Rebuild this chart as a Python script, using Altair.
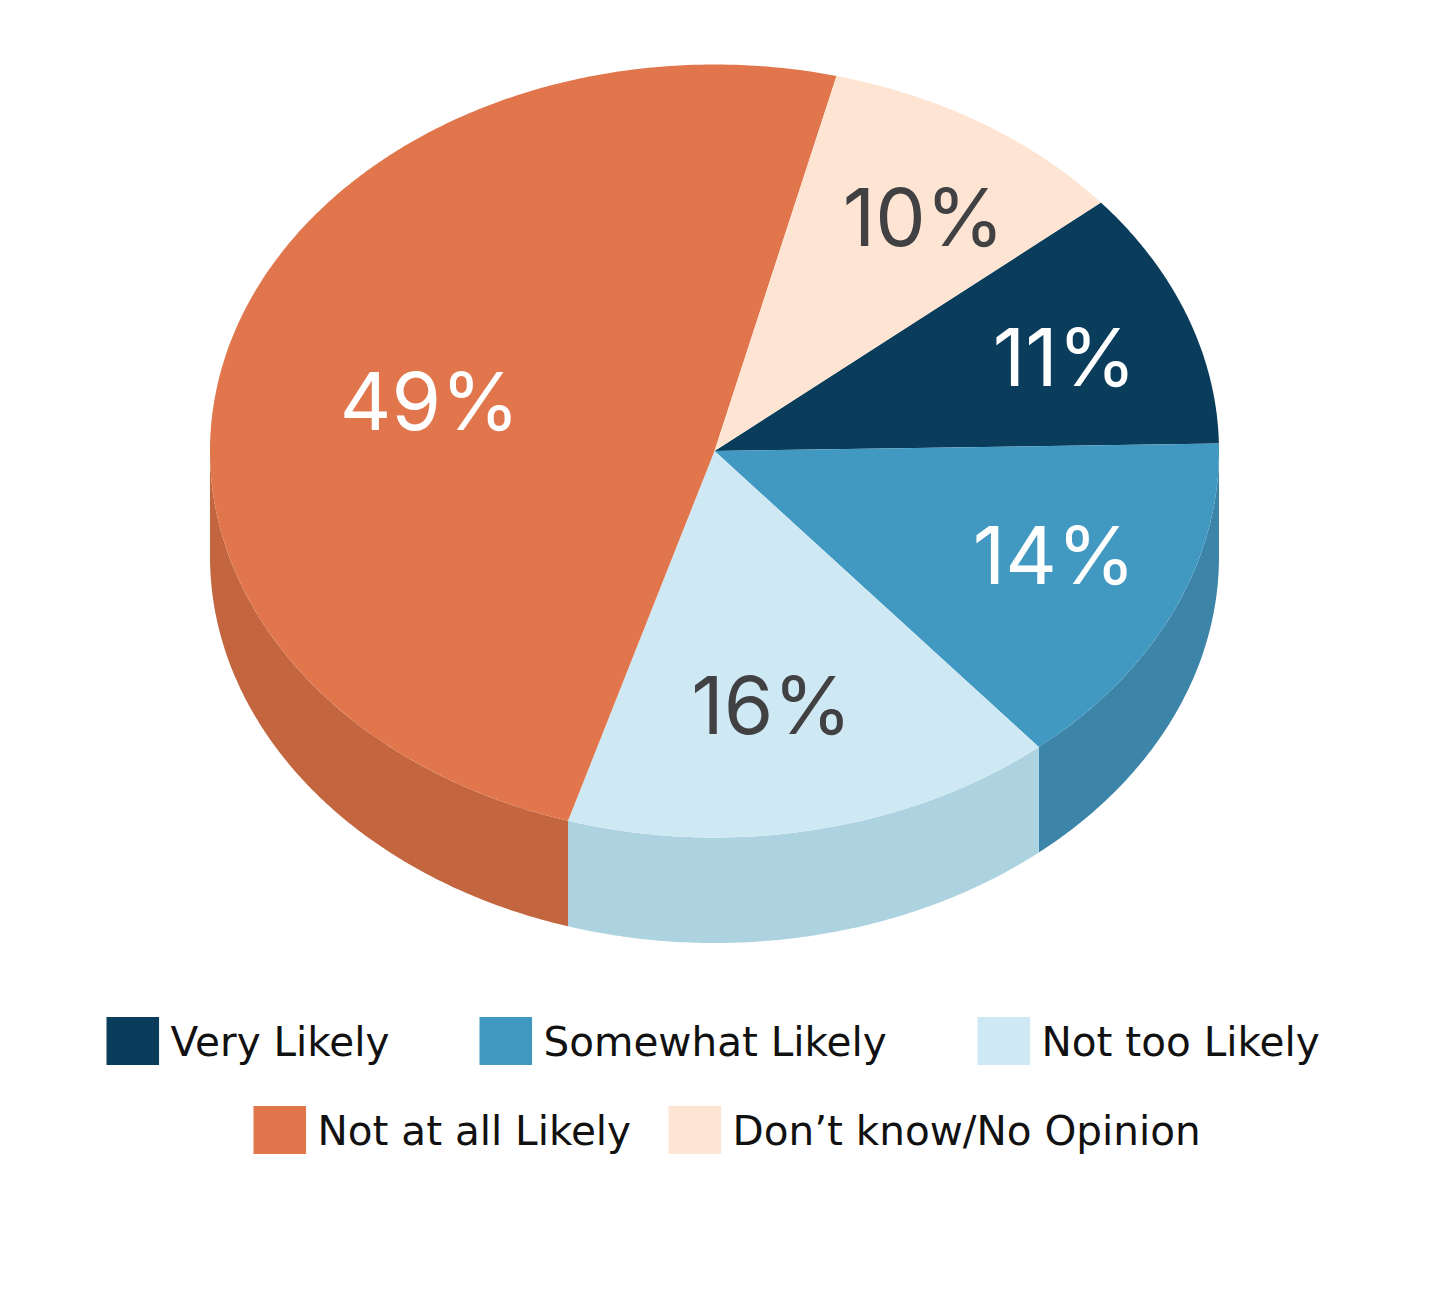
import math
import altair as alt

categories = ["Very Likely", "Somewhat Likely", "Not too Likely", "Not at all Likely", "Don’t know/No Opinion"]
shares = [10.8, 14.2, 15.8, 49.2, 10.0]
top_colors = ["#0A3D5C", "#4199C1", "#CFE9F4", "#E1764D", "#FEE5D3"]
wall_colors = ["#0A3D5C", "#3C85A8", "#ADD3E1", "#C3653F", "#FEE5D3"]
label_colors = ["#FFFFFF", "#FFFFFF", "#414042", "#FFFFFF", "#414042"]
label_reach = [0.73, 0.72, 0.665, 0.585, 0.73]
label_turn = [1.0, -2.4, 2.3, -2.7, 2.0]

W, H = 1424, 1270
CX, CY, RX, RY, DEPTH = 706.5, 443, 504.5, 386.5, 105.5
START = 50.0
WALL_SEAM = 121.2


def pt(deg, reach=1.0, drop=0.0):
    a = math.radians(deg)
    return [CX + RX * reach * math.sin(a), CY - RY * reach * math.cos(a) + drop]


def sweep(a0, a1):
    n = max(2, int(abs(a1 - a0) * 2) + 1)
    return [a0 + (a1 - a0) * i / (n - 1) for i in range(n)]


def feature(cat, ring, color):
    return {"type": "Feature", "category": cat, "paint": color,
            "geometry": {"type": "Polygon", "coordinates": [ring + [ring[0]]]}, "properties": {}}


def wall_piece(cat, lo, hi, color):
    arc = sweep(lo, hi)
    return feature(cat, [pt(d) for d in arc] + [pt(d, drop=DEPTH) for d in reversed(arc)], color)


tops, walls, labels = [], [], []
angle = START
for cat, share, top, wall, lc, reach, turn in zip(categories, shares, top_colors, wall_colors, label_colors, label_reach, label_turn):
    a1 = angle + share * 3.6
    tops.append(feature(cat, [[CX, CY]] + [pt(d) for d in sweep(angle, a1)], top))
    lo, hi = max(angle, 90), min(a1, 270)
    if lo < hi:
        if lo < WALL_SEAM < hi:
            walls.append(wall_piece(cat, lo, WALL_SEAM, wall))
            walls.append(wall_piece(cat, WALL_SEAM, hi, wall))
        else:
            walls.append(wall_piece(cat, lo, hi, wall))
    x, y = pt((angle + a1) / 2 + turn, reach)
    labels.append({"label": f"{round(share)}%", "x": x, "y": y, "color": lc})
    angle = a1

SWATCH = "M-1.19,-1.1025H1.19V0.8975H-1.19Z"


def legend(x, y, cols, gap):
    return alt.Legend(orient="none", legendX=x, legendY=y, direction="horizontal", columns=cols, title=None,
                      symbolType=SWATCH, symbolSize=2304, symbolStrokeWidth=0, symbolOpacity=1, padding=0,
                      labelFont="DejaVu Sans", labelFontSize=40.5, labelColor="#111111", labelLimit=700,
                      labelOffset=16, columnPadding=gap, clipHeight=70, symbolOffset=0)


def geo(values):
    return alt.Chart(alt.Data(values=values)).mark_geoshape(strokeWidth=0).project(type="identity", scale=1, translate=[0, 0])


wall_layer = geo(walls).encode(fill=alt.Fill("paint:N", scale=None))

row1 = geo(tops[:3]).encode(
    fill=alt.Fill("category:N", sort=categories[:3],
                  scale=alt.Scale(domain=categories[:3], range=top_colors[:3]), legend=legend(98.5, 1000.5, 3, 90)))
row2 = geo(tops[3:]).encode(
    fill=alt.Fill("category:N", sort=categories[3:],
                  scale=alt.Scale(domain=categories[3:], range=top_colors[3:]), legend=legend(245.5, 1089.5, 2, 37)))

text = alt.Chart(alt.Data(values=labels)).mark_text(font="Inter", fontSize=80, fontWeight=400, align="center", baseline="middle", dx=3, dy=5).encode(
    x=alt.X("x:Q", scale=None, axis=None), y=alt.Y("y:Q", scale=None, axis=None),
    text="label:N", color=alt.Color("color:N", scale=None))

chart = alt.layer(wall_layer, row1, row2, text).resolve_scale(fill="independent").properties(
    width=W, height=H, padding=0, autosize=alt.AutoSizeParams(type="none"), background="white"
).configure_view(stroke=None)
chart.save("out.html", embed_options={"renderer": "svg", "actions": False})
